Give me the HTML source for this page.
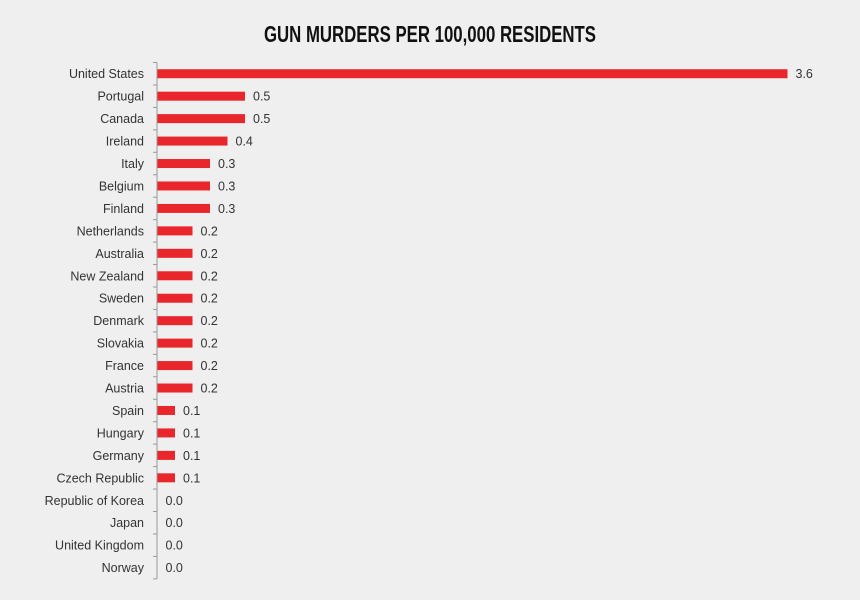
<!DOCTYPE html>
<html><head><meta charset="utf-8"><style>
body{margin:0;background:#efefef;}
svg{display:block;font-family:"Liberation Sans",sans-serif;}
</style></head><body>
<svg id="c" width="860" height="600">
<rect width="860" height="600" fill="#efefef"/>
<text x="430" y="42" text-anchor="middle" font-size="23" font-weight="bold" fill="#111" style="font-family:'Liberation Sans Narrow','Liberation Sans',sans-serif" transform="translate(430,0) scale(0.73,1) translate(-430,0)">GUN MURDERS PER 100,000 RESIDENTS</text>
</svg>
<script>
const countries=["United States","Portugal","Canada","Ireland","Italy","Belgium","Finland","Netherlands","Australia","New Zealand","Sweden","Denmark","Slovakia","France","Austria","Spain","Hungary","Germany","Czech Republic","Republic of Korea","Japan","United Kingdom","Norway"];
const values=[3.6,0.5,0.5,0.4,0.3,0.3,0.3,0.2,0.2,0.2,0.2,0.2,0.2,0.2,0.2,0.1,0.1,0.1,0.1,0.0,0.0,0.0,0.0];
const svg=document.getElementById('c');
const NS='http://www.w3.org/2000/svg';
const x0=157.5,top0=62.5,step=22.45,pxPer=175;
const xScale=v=>x0+v*pxPer;
const yScale=i=>top0+i*step;
function mk(t,a){const e=document.createElementNS(NS,t);for(const k in a)e.setAttribute(k,a[k]);svg.appendChild(e);return e;}
const ax=mk('line',{x1:157,x2:157,y1:top0,y2:yScale(countries.length),stroke:'#999','stroke-width':1});


for(let i=0;i<=countries.length;i++){
  const t=mk('line',{x1:153,x2:157,y1:yScale(i),y2:yScale(i),stroke:'#999','stroke-width':1});
  
  
}
countries.forEach((c,i)=>{
  const cy=yScale(i)+step/2;
  const lab=mk('text',{x:144,y:cy+4.5,'text-anchor':'end','font-size':12.5,fill:'#333'});
  lab.textContent=c;
  
  
  const w=xScale(values[i])-x0;
  const b=mk('rect',{x:x0,y:cy-4.5,width:Math.max(w,0),height:9,fill:'#e8262b'});
  
  
  const v=mk('text',{x:xScale(values[i])+8,y:cy+4.5,'font-size':12.5,fill:'#333'});
  v.textContent=values[i].toFixed(1);
  
  
});
</script>
</body></html>
